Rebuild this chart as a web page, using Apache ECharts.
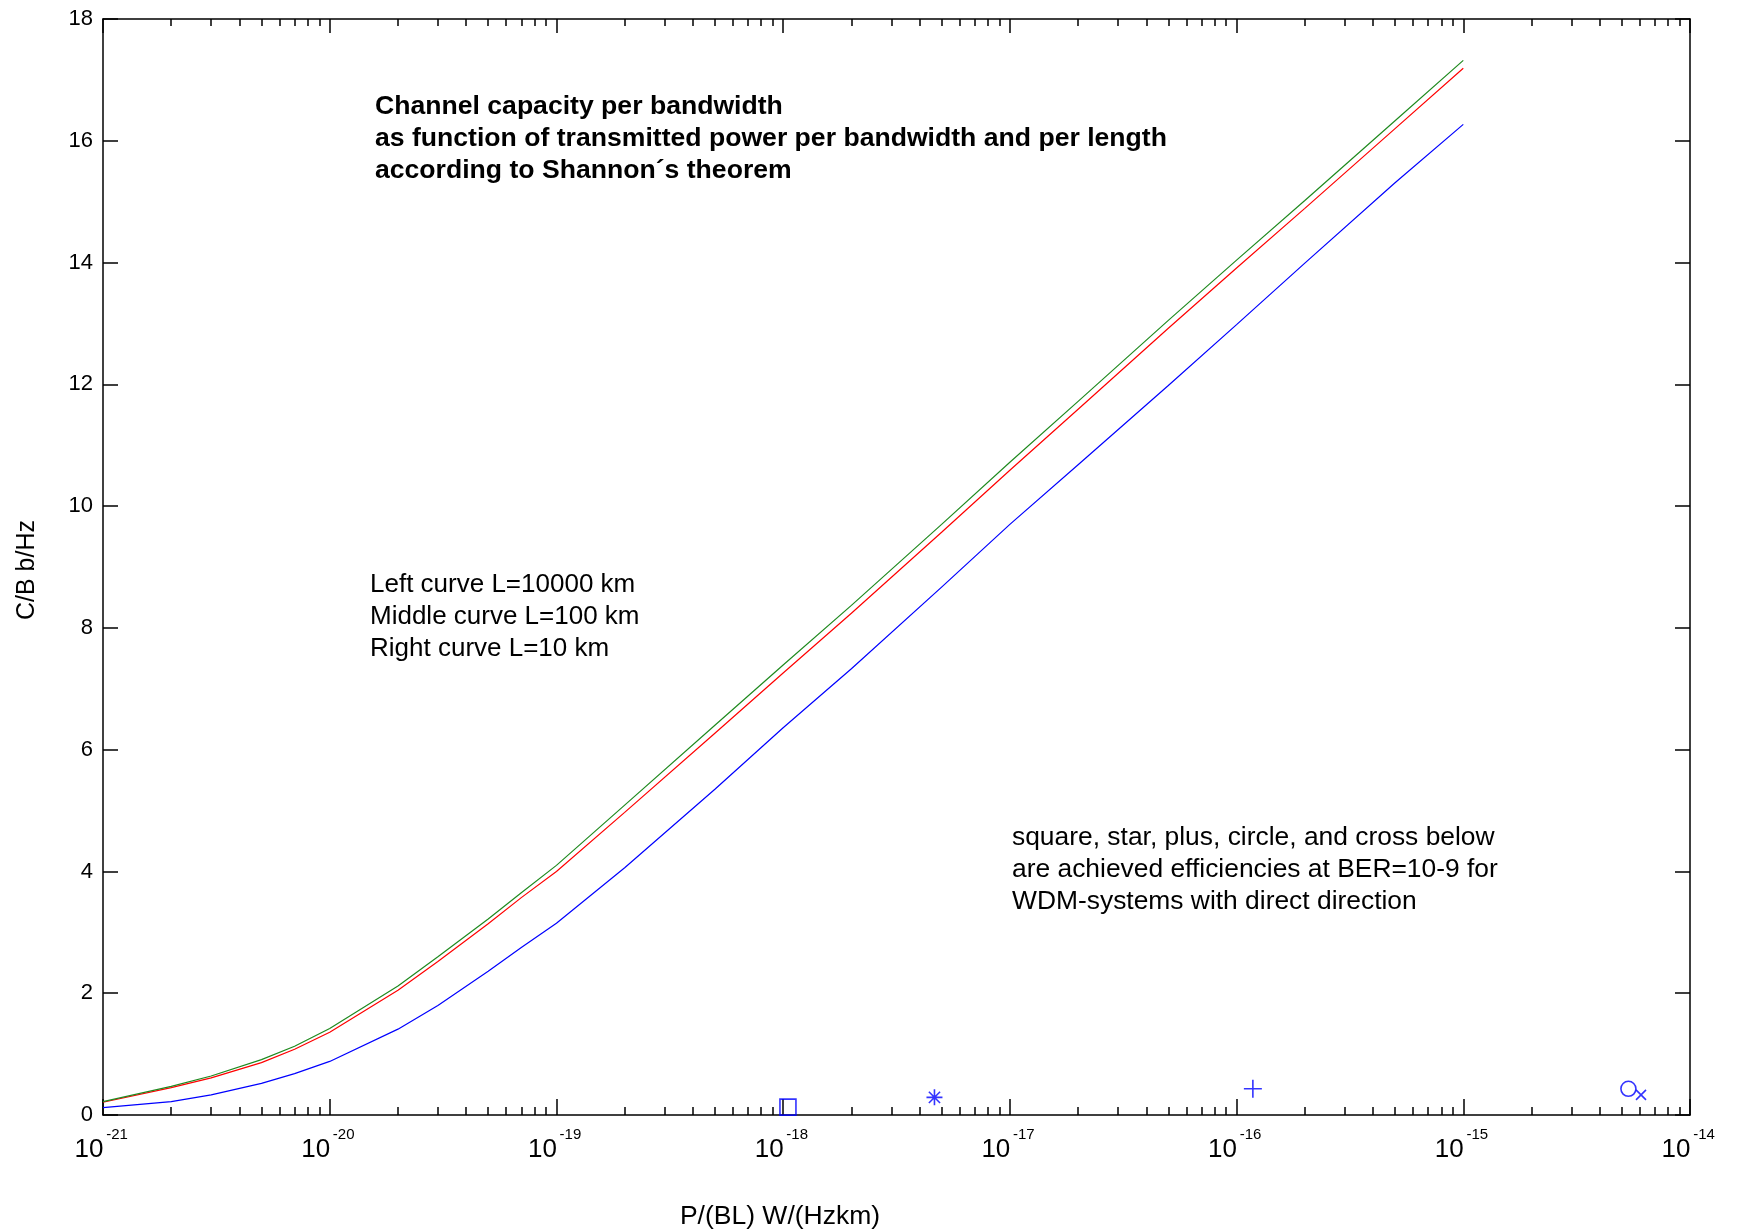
<!DOCTYPE html>
<html>
<head>
<meta charset="utf-8">
<title>Channel capacity per bandwidth</title>
<script src="https://cdn.jsdelivr.net/npm/echarts@6.0.0/dist/echarts.min.js"></script>
<style>
    html, body { margin: 0; padding: 0; background: #fff; }
    #chart { width: 1737px; height: 1231px; }
</style>
</head>
<body>
<div id="chart"></div>
<script>
// P/(BL) in W/(Hz km)
var powerPerBL = [1e-21, 2e-21, 3e-21, 5e-21, 7e-21, 1e-20, 2e-20, 3e-20, 5e-20, 7e-20,
    1e-19, 2e-19, 5e-19, 1e-18, 2e-18, 5e-18, 1e-17, 2e-17, 5e-17, 1e-16, 2e-16, 5e-16, 1e-15];

// C/B in b/Hz
var capGreen = [0.22, 0.47, 0.64, 0.91, 1.13, 1.42, 2.12, 2.60, 3.22, 3.65,
    4.10, 5.09, 6.40, 7.39, 8.37, 9.70, 10.72, 11.72, 13.05, 14.04, 15.02, 16.33, 17.32];
var capRed = [0.21, 0.45, 0.61, 0.86, 1.08, 1.36, 2.05, 2.52, 3.14, 3.57,
    4.00, 4.97, 6.27, 7.26, 8.24, 9.57, 10.59, 11.59, 12.92, 13.91, 14.89, 16.20, 17.19];
var capBlue = [0.12, 0.22, 0.33, 0.52, 0.68, 0.88, 1.41, 1.80, 2.36, 2.75,
    3.15, 4.06, 5.35, 6.36, 7.33, 8.67, 9.70, 10.68, 11.98, 12.98, 13.99, 15.31, 16.27];

// achieved efficiencies (square, star, plus, circle, cross)
var markerNames = ['square', 'star', 'plus', 'circle', 'cross'];
var markerPower = [1.05e-18, 4.65e-18, 1.18e-16, 5.35e-15, 6.08e-15];
var markerEff = [0.13, 0.29, 0.43, 0.43, 0.33];

var xDecades = [-21, -20, -19, -18, -17, -16, -15, -14];

// echarts rounds values as small as 1e-21 to 0 on a log axis,
// so the x axis runs in units of 1e-21 W/(Hz km) and the labels add the exponent back
var X_UNIT = 1e-21;
var X_UNIT_EXP = -21;

var SANS = '"Liberation Sans", Arial, sans-serif';

function pairs(xs, ys) {
    var out = [];
    for (var i = 0; i < xs.length; i++) {
        out.push([xs[i] / X_UNIT, ys[i]]);
    }
    return out;
}

// minor ticks 2..9 of every decade, in exponent units for an overlay value axis
var minorTicks = [];
for (var d = 0; d < xDecades.length - 1; d++) {
    for (var k = 2; k <= 9; k++) {
        minorTicks.push(xDecades[d] + Math.log10(k));
    }
}

var markerSymbols = {
    square: 'rect',
    star: 'path://M5,0L5,10M0,5L10,5M1.5,1.5L8.5,8.5M8.5,1.5L1.5,8.5',
    plus: 'path://M5,0L5,10M0,5L10,5',
    circle: 'circle',
    cross: 'path://M0,0L10,10M10,0L0,10'
};
var markerSizes = { square: 16, star: 16, plus: 18, circle: 15, cross: 10 };

var axisLineStyle = { color: '#000', width: 1.5 };

var myChart = echarts.init(document.getElementById('chart'), null, { renderer: 'canvas' });

var series = [
    { name: 'L=10 km', type: 'line', data: pairs(powerPerBL, capBlue), color: '#0000ff' },
    { name: 'L=100 km', type: 'line', data: pairs(powerPerBL, capRed), color: '#ff0000' },
    { name: 'L=10000 km', type: 'line', data: pairs(powerPerBL, capGreen), color: '#1f8a1f' }
];
series.forEach(function (s) {
    s.xAxisIndex = 0;
    s.yAxisIndex = 0;
    s.showSymbol = false;
    s.symbol = 'none';
    s.smooth = false;
    s.silent = true;
    s.lineStyle = { width: 1.2, color: s.color };
});

markerNames.forEach(function (m, i) {
    series.push({
        name: m,
        type: 'scatter',
        xAxisIndex: 0,
        yAxisIndex: 0,
        clip: false,
        symbol: markerSymbols[m],
        symbolSize: markerSizes[m],
        itemStyle: { color: 'rgba(0,0,0,0)', borderColor: '#0000ff', borderWidth: 1.6 },
        data: [[markerPower[i] / X_UNIT, markerEff[i]]]
    });
});

var option = {
    backgroundColor: '#fff',
    animation: false,
    grid: { left: 103, right: 47, top: 19, bottom: 116, containLabel: false },
    xAxis: [
        {
            type: 'log', logBase: 10, min: 1, max: 1e7, interval: 1,
            position: 'bottom',
            axisLine: { lineStyle: axisLineStyle },
            axisTick: { inside: true, length: 16, lineStyle: axisLineStyle },
            splitLine: { show: false },
            axisLabel: {
                margin: 12,
                formatter: function (v) {
                    return '{b|10}{e|' + (Math.round(Math.log10(v)) + X_UNIT_EXP) + '}';
                },
                rich: {
                    b: { fontFamily: SANS, fontSize: 26, color: '#000', lineHeight: 36,
                        verticalAlign: 'bottom', width: 28, align: 'right' },
                    e: { fontFamily: SANS, fontSize: 15, color: '#000', lineHeight: 15,
                        verticalAlign: 'top', width: 28, align: 'left' }
                }
            }
        },
        {
            type: 'value', min: -21, max: -14, position: 'bottom',
            axisLine: { show: false },
            axisTick: { inside: true, length: 8, lineStyle: axisLineStyle, customValues: minorTicks },
            axisLabel: { show: false },
            splitLine: { show: false }
        },
        {
            type: 'log', logBase: 10, min: 1, max: 1e7, interval: 1,
            position: 'top',
            axisLine: { lineStyle: axisLineStyle },
            axisTick: { inside: true, length: 14, lineStyle: axisLineStyle },
            axisLabel: { show: false },
            splitLine: { show: false }
        },
        {
            type: 'value', min: -21, max: -14, position: 'top',
            axisLine: { show: false },
            axisTick: { inside: true, length: 7, lineStyle: axisLineStyle, customValues: minorTicks },
            axisLabel: { show: false },
            splitLine: { show: false }
        }
    ],
    yAxis: [
        {
            type: 'value', min: 0, max: 18, interval: 2, position: 'left',
            axisLine: { show: true, lineStyle: axisLineStyle },
            axisTick: { show: true, inside: true, length: 15, lineStyle: axisLineStyle },
            splitLine: { show: false },
            axisLabel: {
                margin: 10,
                fontFamily: SANS, fontSize: 22, color: '#000'
            }
        },
        {
            type: 'value', min: 0, max: 18, interval: 2, position: 'right',
            axisLine: { show: true, lineStyle: axisLineStyle },
            axisTick: { show: true, inside: true, length: 15, lineStyle: axisLineStyle },
            splitLine: { show: false },
            axisLabel: { show: false }
        }
    ],
    graphic: [
        {
            type: 'text', left: 375, top: 91, silent: true,
            style: {
                text: 'Channel capacity per bandwidth\nas function of transmitted power per bandwidth and per length\naccording to Shannon\u00b4s theorem',
                fontFamily: SANS, fontWeight: 'bold', fontSize: 26.6, lineHeight: 32, fill: '#000'
            }
        },
        {
            type: 'text', left: 370, top: 569, silent: true,
            style: {
                text: 'Left curve L=10000 km\nMiddle curve L=100 km\nRight curve L=10 km',
                fontFamily: SANS, fontSize: 26, lineHeight: 32, fill: '#000'
            }
        },
        {
            type: 'text', left: 1012, top: 822, silent: true,
            style: {
                text: 'square, star, plus, circle, and cross below\nare achieved efficiencies at BER=10-9 for\nWDM-systems with direct direction',
                fontFamily: SANS, fontSize: 26.4, lineHeight: 32, fill: '#000'
            }
        },
        {
            type: 'text', x: 780, y: 1217, silent: true,
            style: {
                text: 'P/(BL) W/(Hzkm)', align: 'center', verticalAlign: 'middle',
                fontFamily: SANS, fontSize: 26.5, fill: '#000'
            }
        },
        {
            type: 'text', x: 27, y: 570, rotation: Math.PI / 2, silent: true,
            style: {
                text: 'C/B b/Hz', align: 'center', verticalAlign: 'middle',
                fontFamily: SANS, fontSize: 25, fill: '#000'
            }
        }
    ],
    series: series
};

myChart.setOption(option);
</script>
</body>
</html>
